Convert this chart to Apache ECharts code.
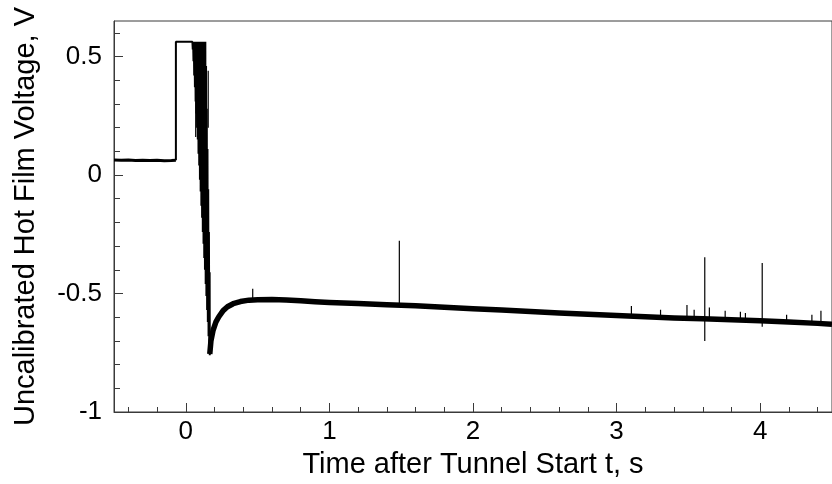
<!DOCTYPE html>
<html>
<head>
<meta charset="utf-8">
<script src="https://cdn.jsdelivr.net/npm/echarts@6/dist/echarts.min.js"></script>
<style>
  html, body { margin: 0; padding: 0; background: #fff; }
  #chart { width: 832px; height: 484px; }
</style>
</head>
<body>
<div id="chart"></div>
<script>
// Pre-start baseline of the hot-film signal (s, V)
const baseT = [-0.5, -0.45, -0.4, -0.35, -0.3, -0.25, -0.2, -0.15, -0.1, -0.069];
const baseV = [0.063, 0.062, 0.063, 0.061, 0.062, 0.061, 0.062, 0.060, 0.061, 0.062];

// Tunnel start: step to saturation, then fast oscillation collapsing to the minimum
const pulseT = [-0.069, -0.069, 0.046,
  0.0485, 0.051, 0.0535, 0.056, 0.0585, 0.061, 0.0635, 0.066, 0.0685, 0.071,
  0.0735, 0.076, 0.0785, 0.081, 0.0835, 0.086, 0.0885, 0.091, 0.0935, 0.096,
  0.0985, 0.101, 0.1035, 0.106, 0.1085, 0.111, 0.1135, 0.116, 0.1185, 0.121,
  0.1235, 0.126, 0.1285, 0.131, 0.1335, 0.136, 0.1385, 0.141, 0.1435, 0.146,
  0.1485, 0.151, 0.1535, 0.156, 0.1585, 0.161, 0.1635, 0.166, 0.167];
const pulseV = [0.062, 0.562, 0.562,
  0.53, 0.562, 0.48, 0.562, 0.42, 0.562, 0.37, 0.562, 0.31, 0.562,
  0.26, 0.562, 0.20, 0.562, 0.15, 0.562, 0.09, 0.562, 0.04, 0.562,
  -0.02, 0.562, -0.07, 0.562, -0.13, 0.562, -0.18, 0.562, -0.24, 0.562,
  -0.29, 0.562, -0.35, 0.562, -0.40, 0.562, -0.46, 0.46, -0.51, 0.28,
  -0.57, 0.11, -0.62, -0.06, -0.68, -0.24, -0.73, -0.41, -0.76];

// Recovery and slow drift after the start transient
const bandT = [0.167, 0.175, 0.19, 0.21, 0.23, 0.26, 0.29, 0.33, 0.38, 0.44, 0.5,
  0.6, 0.7, 0.8, 0.9, 1.0, 1.2, 1.4, 1.6, 1.8, 2.0, 2.2, 2.4, 2.6, 2.8, 3.0,
  3.2, 3.4, 3.6, 3.8, 4.0, 4.2, 4.4, 4.5];
const bandV = [-0.755, -0.70, -0.655, -0.62, -0.598, -0.572, -0.556, -0.543, -0.534, -0.528, -0.526,
  -0.525, -0.527, -0.531, -0.535, -0.538, -0.542, -0.547, -0.552, -0.558, -0.564, -0.570, -0.576, -0.582, -0.588, -0.593,
  -0.598, -0.603, -0.607, -0.611, -0.615, -0.620, -0.626, -0.630];

// Isolated spikes: time, lower end, upper end
const spikeT  = [0.069, 0.156, 0.466, 1.487, 3.103, 3.306, 3.49, 3.54, 3.614, 3.646, 3.756, 3.862, 3.897, 4.014, 4.184, 4.36, 4.423];
const spikeLo = [0.16, 0.20, -0.53, -0.55, -0.59, -0.60, -0.60, -0.60, -0.70, -0.60, -0.61, -0.61, -0.61, -0.64, -0.62, -0.625, -0.63];
const spikeHi = [0.43, 0.44, -0.48, -0.277, -0.553, -0.568, -0.548, -0.568, -0.347, -0.559, -0.573, -0.577, -0.582, -0.371, -0.59, -0.59, -0.573];

// Axis ticks and labels
const xMajor = [0, 1, 2, 3, 4];
const xMinor = [-0.4, -0.2, 0.2, 0.4, 0.6, 0.8, 1.2, 1.4, 1.6, 1.8, 2.2, 2.4, 2.6, 2.8,
  3.2, 3.4, 3.6, 3.8, 4.2, 4.4];
const yMajor = [-1, -0.5, 0, 0.5];
const yMinor = [-0.9, -0.8, -0.7, -0.6, -0.4, -0.3, -0.2, -0.1, 0.1, 0.2, 0.3, 0.4, 0.6];

const zip = (a, b) => a.map((v, i) => [v, b[i]]);
const spikeData = [];
spikeT.forEach((t, i) => {
  spikeData.push([t, spikeLo[i]], [t, spikeHi[i]], [t, null]);
});

const font = 'Liberation Sans, Arial, Helvetica, sans-serif';
const axisCol = '#3a3a3a';

const chart = echarts.init(document.getElementById('chart'), null, { renderer: 'canvas' });
chart.setOption({
  animation: false,
  backgroundColor: '#fff',
  grid: {
    left: 114, right: -7, top: 21, bottom: 68,
    show: true, borderColor: axisCol, borderWidth: 1, backgroundColor: 'transparent'
  },
  xAxis: [{
    type: 'value', min: -0.5, max: 4.5,
    name: 'Time after Tunnel Start t, s', nameLocation: 'middle', nameGap: 38,
    nameTextStyle: { fontFamily: font, fontSize: 29, color: '#000' },
    axisLine: { show: true, onZero: false, lineStyle: { color: axisCol, width: 1 } },
    axisTick: { show: true, inside: true, length: 9, customValues: xMajor, lineStyle: { color: axisCol } },
    axisLabel: { customValues: xMajor, margin: 7, fontFamily: font, fontSize: 26, color: '#000' },
    splitLine: { show: false }
  }, {
    type: 'value', min: -0.5, max: 4.5, position: 'bottom', gridIndex: 0,
    axisLine: { show: false, onZero: false },
    axisTick: { show: true, inside: true, length: 5, customValues: xMinor, lineStyle: { color: axisCol } },
    axisLabel: { show: false },
    splitLine: { show: false }
  }],
  yAxis: [{
    type: 'value', min: -1, max: 0.65,
    name: 'Uncalibrated Hot Film Voltage, V', nameLocation: 'middle', nameGap: 74,
    nameTextStyle: { fontFamily: font, fontSize: 29, color: '#000' },
    axisLine: { show: true, onZero: false, lineStyle: { color: axisCol, width: 1 } },
    axisTick: { show: true, inside: true, length: 9, customValues: yMajor, lineStyle: { color: axisCol } },
    axisLabel: { customValues: yMajor, margin: 12, fontFamily: font, fontSize: 26, color: '#000' },
    splitLine: { show: false }
  }, {
    type: 'value', min: -1, max: 0.65, position: 'left', gridIndex: 0,
    axisLine: { show: false, onZero: false },
    axisTick: { show: true, inside: true, length: 6, customValues: yMinor, lineStyle: { color: axisCol } },
    axisLabel: { show: false },
    splitLine: { show: false }
  }],
  series: [{
    type: 'line', name: 'baseline', data: zip(baseT, baseV), showSymbol: false,
    lineStyle: { color: '#000', width: 3 }, z: 3
  }, {
    type: 'line', name: 'start', data: zip(pulseT, pulseV), showSymbol: false,
    lineStyle: { color: '#000', width: 2 }, z: 3
  }, {
    type: 'line', name: 'run', data: zip(bandT, bandV), showSymbol: false,
    lineStyle: { color: '#000', width: 5.5, join: 'round' }, z: 3
  }, {
    type: 'line', name: 'spikes', data: spikeData, showSymbol: false, connectNulls: false,
    lineStyle: { color: '#000', width: 1.2 }, z: 4
  }]
});
</script>
</body>
</html>
